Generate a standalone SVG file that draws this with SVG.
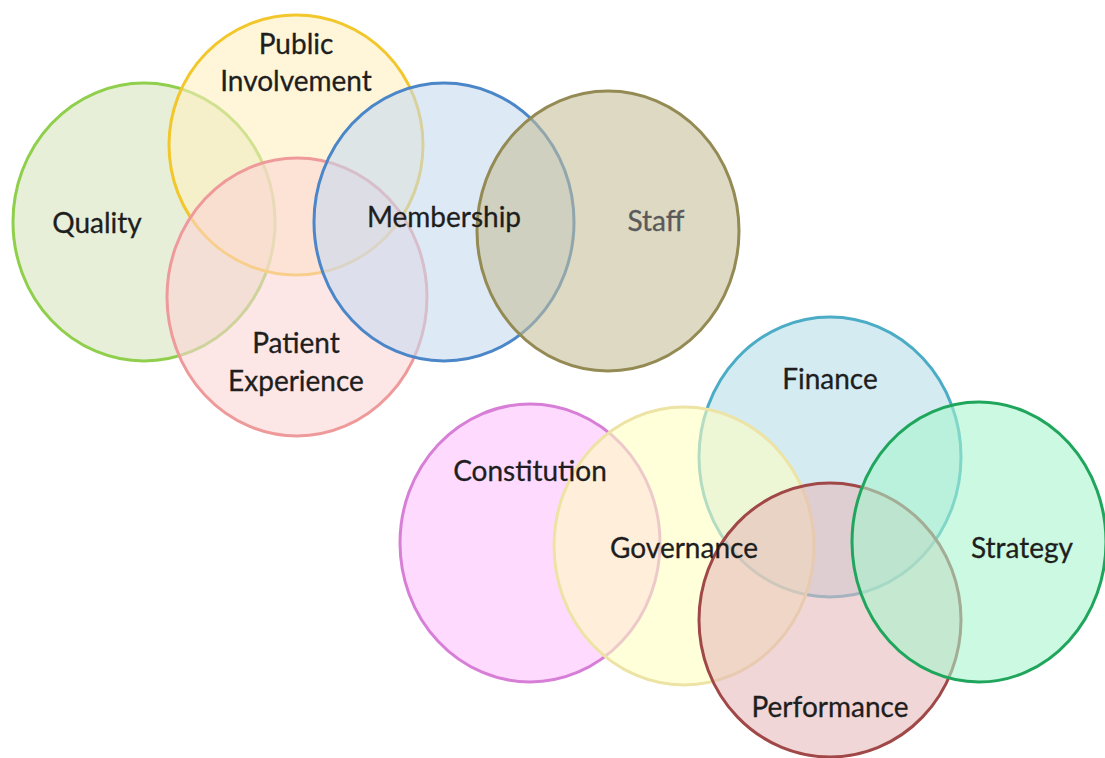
<svg xmlns="http://www.w3.org/2000/svg" width="1105" height="758" viewBox="0 0 1105 758">
<style>
.c{stroke-width:3;fill-opacity:0.58}
.t{font-family:Lato,"Open Sans","Liberation Sans",sans-serif;font-size:28px;fill:#1e1e1e;text-anchor:middle;stroke:#1e1e1e;stroke-width:0.3}
</style>
<rect width="1105" height="758" fill="#fff"/>
<g id="quality"><ellipse class="c" cx="144" cy="222" rx="131" ry="139" fill="#d6e3bc" stroke="#8fcf4c"/></g>
<g id="public-involvement"><ellipse class="c" cx="296" cy="145" rx="127" ry="130" fill="#fff0c0" stroke="#f2c72c"/></g>
<g id="patient-experience"><ellipse class="c" cx="297" cy="297" rx="130" ry="139" fill="#fcd4d4" stroke="#ef9a9a"/></g>
<g id="membership"><ellipse class="c" cx="444" cy="222" rx="130" ry="139" fill="#c6d9f0" stroke="#4a86c8"/></g>
<g id="staff"><ellipse class="c" cx="608" cy="231" rx="131" ry="140" fill="#c4bd97" stroke="#948a54"/></g>
<g id="finance"><ellipse class="c" cx="830" cy="457" rx="131" ry="140" fill="#b7dde8" stroke="#4bacc6"/></g>
<g id="constitution"><ellipse class="c" cx="530" cy="543" rx="130" ry="139" fill="#ffc0ff" stroke="#d77fd7"/></g>
<g id="governance"><ellipse class="c" cx="684" cy="546" rx="130" ry="139" fill="#ffffc0" stroke="#ece3a4"/></g>
<g id="performance"><ellipse class="c" cx="830" cy="620" rx="131" ry="137" fill="#e6b9b8" stroke="#a04848"/></g>
<g id="strategy"><ellipse class="c" cx="979" cy="542" rx="127" ry="140" fill="#a6f5cc" stroke="#1fa65c"/></g>
<g id="labels">
<text class="t" x="296" y="54">Public</text>
<text class="t" x="296" y="91">Involvement</text>
<text class="t" x="97" y="233">Quality</text>
<text class="t" x="444" y="227">Membership</text>
<text class="t" x="656" y="231" style="fill:#5a5a5a;stroke:#5a5a5a">Staff</text>
<text class="t" x="296" y="353">Patient</text>
<text class="t" x="296" y="391">Experience</text>
<text class="t" x="830" y="389">Finance</text>
<text class="t" x="530" y="481">Constitution</text>
<text class="t" x="684" y="558">Governance</text>
<text class="t" x="1022" y="558">Strategy</text>
<text class="t" x="830" y="717">Performance</text>
</g>
</svg>
